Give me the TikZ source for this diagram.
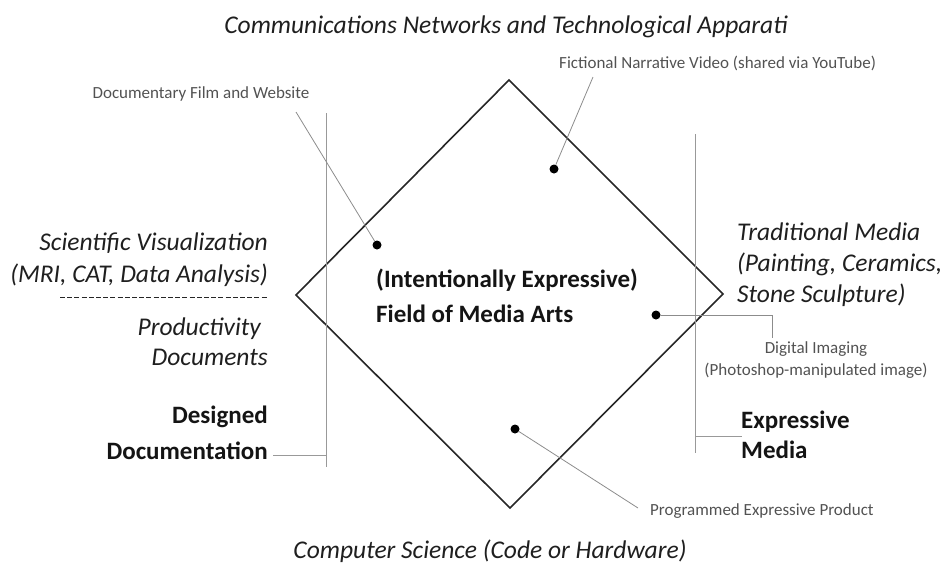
\documentclass[tikz,border=0pt]{standalone}
\usepackage{fontspec}
\setmainfont{Carlito}
\begin{document}
\begin{tikzpicture}[x=1pt,y=-1pt,
  big/.style={font=\fontsize{25.5}{31}\selectfont\itshape, text=black!88, inner sep=0pt},
  bigb/.style={font=\fontsize{25}{31}\selectfont\bfseries, text=black!92, inner sep=0pt},
  small/.style={font=\fontsize{17}{22}\selectfont, text=black!68, inner sep=0pt},
  lead/.style={draw=black!45, line width=0.8pt},
  rule/.style={draw=black!40, line width=0.8pt},
  dot/.style={circle, fill=black, inner sep=0pt, minimum size=9pt},
  frame/.style={draw=black!85, line width=1.6pt, line join=miter}]
\useasboundingbox (0,0) rectangle (942,563);
% diamond
\coordinate (T) at (509,80);
\coordinate (R) at (723,294);
\coordinate (B) at (510,508);
\coordinate (L) at (296,295);
\draw[frame] (T) -- (R) -- (B) -- (L) -- cycle;
% vertical rules
\coordinate (lv1) at (326,113);
\coordinate (lv2) at (326,467);
\coordinate (lt) at (273,455);
\coordinate (lt2) at (326,455);
\draw[rule] (lv1) -- (lv2);
\draw[rule] (lt) -- (lt2);
\coordinate (rv1) at (695,134);
\coordinate (rv2) at (695,453);
\coordinate (rt) at (695,436);
\coordinate (rt2) at (742,436);
\draw[rule] (rv1) -- (rv2);
\draw[rule] (rt) -- (rt2);
% titles
\node[big, anchor=base] (top) at (506,33) {Communications Networks and Technological Apparati};
\node[big, anchor=base] (bot) at (490,558) {Computer Science (Code or Hardware)};
% centre
\node[bigb, anchor=base west] (ctr1) at (376,287) {(Intentionally Expressive)};
\node[bigb, anchor=base west] (ctr2) at (376,322) {Field of Media Arts};
% left
\node[big, anchor=base east] (sci1) at (268,250) {Scientific Visualization};
\node[big, anchor=base east] (sci2) at (268,282) {(MRI, CAT, Data Analysis)};
\coordinate (da) at (60,297);
\coordinate (db) at (268,297);
\draw[black!85, line width=1pt, dash pattern=on 5pt off 2.2pt] (da) -- (db);
\node[big, anchor=base east] (prod1) at (261,335) {Productivity};
\node[big, anchor=base east] (prod2) at (268,365) {Documents};
\node[bigb, anchor=base east] (des1) at (268,423) {Designed};
\node[bigb, anchor=base east] (des2) at (268,459) {Documentation};
% right
\node[big, anchor=base west] (trad1) at (737,240) {Traditional Media};
\node[big, anchor=base west] (trad2) at (737,271) {(Painting, Ceramics,};
\node[big, anchor=base west] (trad3) at (737,302) {Stone Sculpture)};
\node[bigb, anchor=base west] (expr1) at (741,428) {Expressive};
\node[bigb, anchor=base west] (expr2) at (741,458) {Media};
% dots and labels
\node[dot] (d1) at (377,245) {};
\node[small, anchor=base] (l1) at (201,98) {Documentary Film and Website};
\coordinate (e1) at (296,112);
\draw[lead] (d1) -- (e1);
\node[dot] (d2) at (554,169) {};
\node[small, anchor=base west] (l2) at (559,68) {Fictional Narrative Video (shared via YouTube)};
\coordinate (e2) at (593,77);
\draw[lead] (d2) -- (e2);
\node[dot] (d3) at (656,315) {};
\node[small, anchor=base] (l3a) at (816,353) {Digital Imaging};
\node[small, anchor=base] (l3b) at (816,375) {(Photoshop-manipulated image)};
\coordinate (k3) at (772,315);
\coordinate (e3) at (772,338);
\draw[lead] (d3) -- (k3) -- (e3);
\node[dot] (d4) at (515,429) {};
\node[small, anchor=base west] (l4) at (650,515) {Programmed Expressive Product};
\coordinate (e4) at (638,508);
\draw[lead] (d4) -- (e4);
\end{tikzpicture}
\end{document}
